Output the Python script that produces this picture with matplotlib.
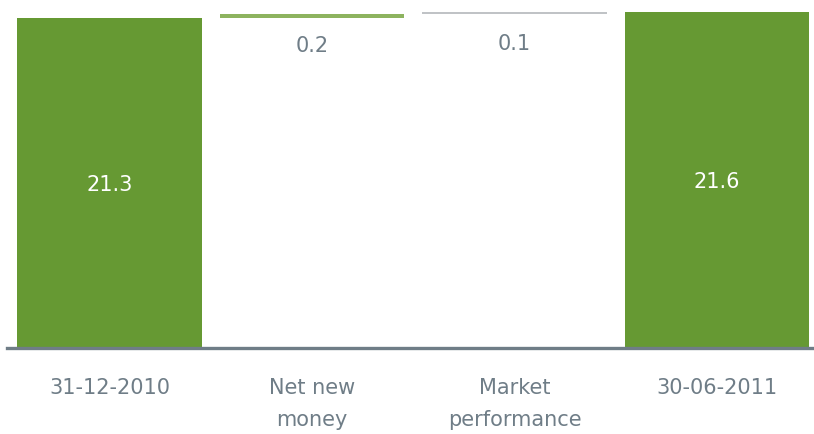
import matplotlib
matplotlib.use("Agg")
from matplotlib import pyplot as plt

categories = ["31-12-2010", "Net new\nmoney", "Market\nperformance", "30-06-2011"]
values = [21.3, 0.2, 0.1, 21.6]
labels = ["21.3", "0.2", "0.1", "21.6"]
bar_colors = ["#669933", "#8db35f", "#c0c3c6", "#669933"]

# waterfall bottoms: totals start at 0, steps float on the running total
bottoms = [0, values[0], values[0] + values[1], 0]

text_color = "#6f7d87"
plt.rcParams["font.family"] = ["DejaVu Sans"]

fig = plt.figure(figsize=(8.14, 4.35), dpi=100)
ax = fig.add_axes([7 / 814, 86 / 435, 807 / 814, 349 / 435])

x = range(len(categories))
ax.bar(x, values, bottom=bottoms, width=0.913, color=bar_colors)

ax.set_xlim(-0.506, 3.479)
ax.set_ylim(4.8, 22.25)

for i in x:
    if i in (0, 3):
        ax.text(i, (ax.get_ylim()[0] + values[i]) / 2 - 0.05, labels[i], ha="center", va="center",
                color="white", fontsize=15)
    else:
        ax.text(i, bottoms[i] + values[i] - 1.05, labels[i], ha="center", va="top",
                color=text_color, fontsize=15)

for i in x:
    ax.text(i, 4.8 - 1.45, categories[i], ha="center", va="top", color=text_color,
            fontsize=15, linespacing=1.75)

for s in ["top", "left", "right"]:
    ax.spines[s].set_visible(False)
ax.spines["bottom"].set_color("#6f7d87")
ax.spines["bottom"].set_linewidth(2.4)
ax.set_xticks([])
ax.set_yticks([])

fig.savefig("out.png", dpi=100)
